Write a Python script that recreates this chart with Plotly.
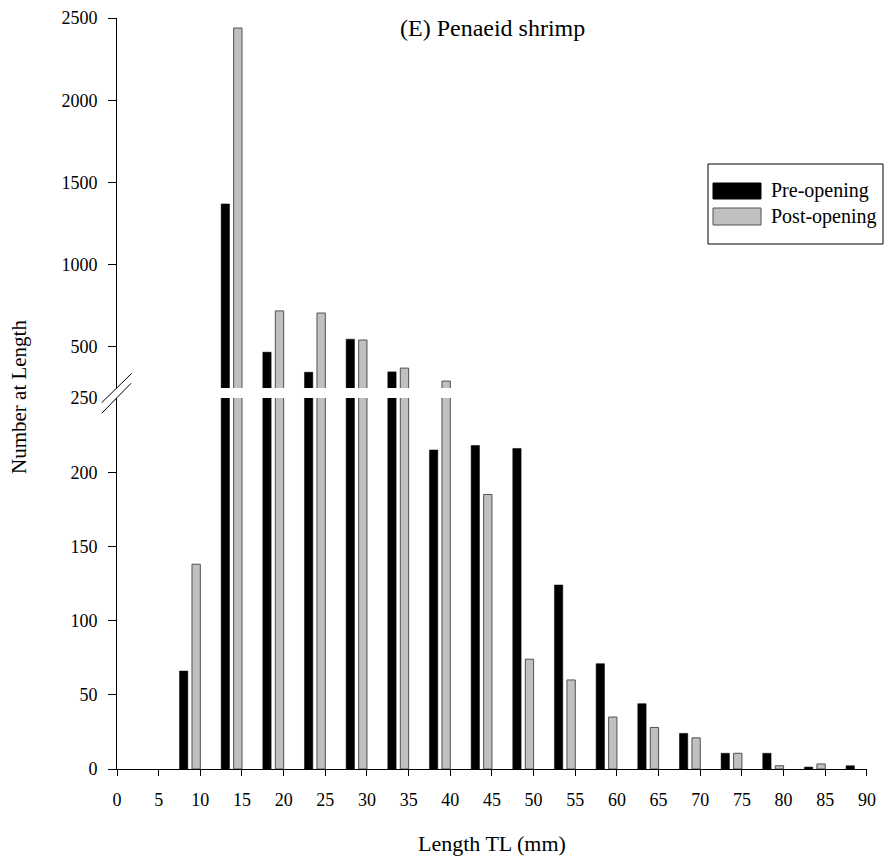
import plotly.graph_objects as go

bins = [10, 15, 20, 25, 30, 35, 40, 45, 50, 55, 60, 65, 70, 75, 80, 85, 90]
pre_opening = [66, 1370, 468, 346, 547, 348, 215, 218, 216, 124, 71, 44, 24, 10.6, 10.6, 1.3, 2.2]
post_opening = [138, 2440, 719, 706, 542, 371, 292, 185, 74, 60, 35, 28, 21, 10.6, 2.2, 3.4, None]
x_ticks = list(range(0, 95, 5))
low_ticks = [0, 50, 100, 150, 200, 250]
high_ticks = [500, 1000, 1500, 2000, 2500]

FONT = "Liberation Serif"
OFF = 8  # default page body margin
W, H = 895 - OFF, 859 - OFF
ml, mt = 117 - OFF, 18 - OFF
pw, ph = 750, 751
mr = W - ml - pw
mb = H - mt - ph
low_top = (769 - 398) / ph
high_bot = (769 - 388) / ph

fig = go.Figure()
for ax in ["y", "y2"]:
    fig.add_trace(go.Bar(x=bins, y=pre_opening, name="Pre-opening", yaxis=ax,
                         offset=-2.5, width=1.0,
                         marker=dict(color="black", line=dict(color="black", width=0.5)),
                         showlegend=False))
    fig.add_trace(go.Bar(x=bins, y=post_opening, name="Post-opening", yaxis=ax,
                         offset=-1.0, width=1.0,
                         marker=dict(color="#c0c0c0", line=dict(color="#505050", width=1)),
                         showlegend=False))

axis_common = dict(showgrid=False, zeroline=False, showline=True, linecolor="black", linewidth=1,
                   ticks="outside", tickcolor="black",
                   tickfont=dict(family=FONT, size=18, color="black"))

fig.update_layout(
    width=W, height=H, margin=dict(l=ml, r=mr, t=mt, b=mb, autoexpand=False),
    paper_bgcolor="white", plot_bgcolor="white", barmode="overlay",
    xaxis=dict(range=[0, 90.01], tickvals=x_ticks, ticklen=6, ticklabelstandoff=8, anchor="y", **axis_common),
    yaxis=dict(range=[0, 250], domain=[0, low_top], tickvals=low_ticks, ticklen=8,
               ticklabelstandoff=7, **axis_common),
    yaxis2=dict(range=[250, 2501], domain=[high_bot, 1], tickvals=high_ticks, ticklen=8,
                ticklabelstandoff=7, **axis_common),
    font=dict(family=FONT, color="black"),
)


def px(xs):
    return (xs - OFF - ml) / pw


def py(ys):
    return (769 - ys) / ph


shapes = []
# axis break marks
shapes.append(dict(type="path", xref="paper", yref="paper",
                   path=f"M {px(101.7)} {py(402.7)} L {px(131.7)} {py(373.3)} L {px(131)} {py(383.3)} L {px(101.7)} {py(413.3)} Z",
                   fillcolor="white", line=dict(width=0)))
for (x0, y0, x1, y1) in [(101.7, 402.7, 131.7, 373.3), (101.7, 413.3, 131, 383.3)]:
    shapes.append(dict(type="line", xref="paper", yref="paper", x0=px(x0), y0=py(y0), x1=px(x1), y1=py(y1),
                       line=dict(color="black", width=1)))
# legend box
shapes.append(dict(type="rect", xref="paper", yref="paper", x0=px(708), x1=px(883), y0=py(244), y1=py(164),
                   line=dict(color="black", width=1), fillcolor="white"))
shapes.append(dict(type="rect", xref="paper", yref="paper", x0=px(713), x1=px(761), y0=py(199), y1=py(183),
                   line=dict(color="black", width=1), fillcolor="black"))
shapes.append(dict(type="rect", xref="paper", yref="paper", x0=px(713), x1=px(761), y0=py(225), y1=py(208),
                   line=dict(color="#505050", width=1), fillcolor="#c0c0c0"))
fig.update_layout(shapes=shapes)

ann = [
    dict(text="(E) Penaeid shrimp", x=0.5, y=py(28), xref="paper", yref="paper", showarrow=False,
         font=dict(family=FONT, size=24, color="black"), xanchor="center", yanchor="middle"),
    dict(text="Length TL (mm)", x=0.5, y=py(843), xref="paper", yref="paper", showarrow=False,
         font=dict(family=FONT, size=22, color="black"), xanchor="center", yanchor="middle"),
    dict(text="Number at Length", x=px(19), y=py(397), xref="paper", yref="paper", showarrow=False,
         textangle=-90, font=dict(family=FONT, size=21, color="black"), xanchor="center", yanchor="middle"),
    dict(text="Pre-opening", x=px(769), y=py(191), xref="paper", yref="paper", showarrow=False,
         font=dict(family=FONT, size=20, color="black"), xanchor="left", yanchor="middle"),
    dict(text="Post-opening", x=px(769), y=py(216.5), xref="paper", yref="paper", showarrow=False,
         font=dict(family=FONT, size=20, color="black"), xanchor="left", yanchor="middle"),
]
fig.update_layout(annotations=ann)

fig.write_html("out.html")
